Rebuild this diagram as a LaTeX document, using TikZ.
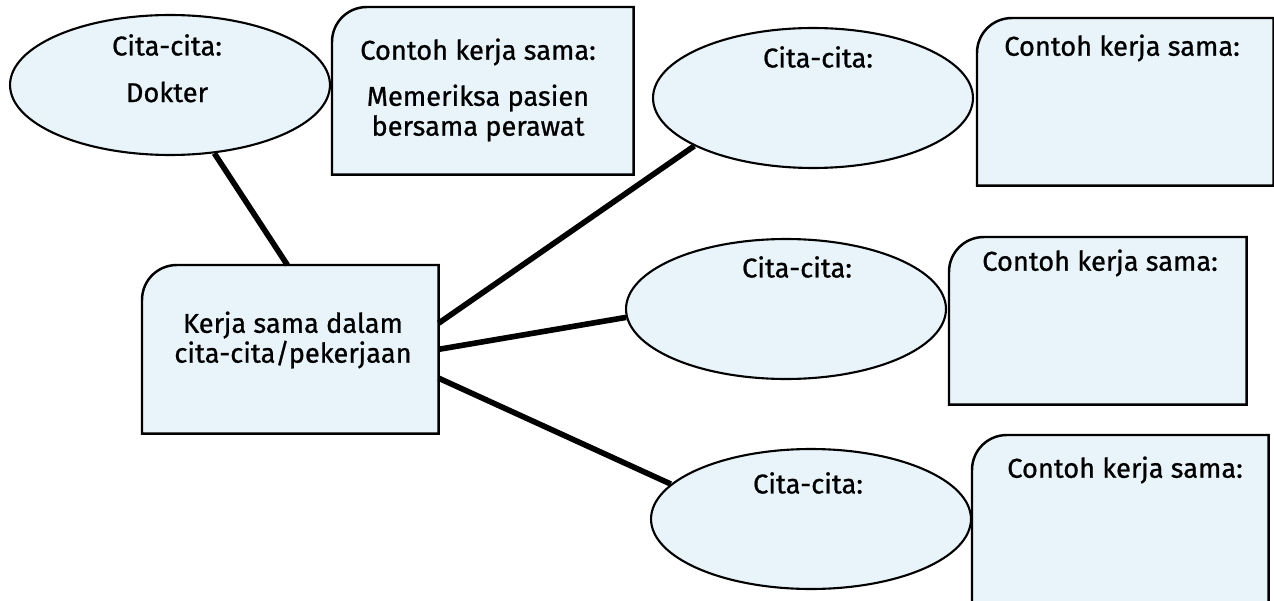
\documentclass[tikz,border=0pt]{standalone}
\usepackage{fontspec}
\setmainfont{Fira Sans}
\newfontfamily\hurufku{Fira Sans}[FakeBold=0.8]
\usetikzlibrary{shapes.geometric,backgrounds}
\definecolor{isi}{RGB}{233,244,250}
\tikzset{
  cita/.style={ellipse, draw, line width=1.2pt, fill=isi, minimum width=6.4cm, minimum height=2.8cm, inner sep=0pt},
  kotak/.style={rectangle, inner sep=0pt, anchor=north west},
  garis/.style={line width=1.4pt, fill=isi},
  sambung/.style={line width=3.2pt},
  tulis/.style={font=\hurufku\fontsize{15.5}{17}\selectfont, align=center, inner sep=0pt}
}
\begin{document}
\begin{tikzpicture}[x=0.02cm, y=-0.02cm]
  \useasboundingbox (0,0) rectangle (1274,601);
  \clip (0,0) rectangle (1274,601);
  %kotak
  \node[kotak, minimum width=6.02cm, minimum height=3.34cm] (contoh1) at (332,7) {};
  \node[kotak, minimum width=5.92cm, minimum height=3.34cm] (contoh2) at (977,18) {};
  \node[kotak, minimum width=5.94cm, minimum height=3.34cm] (contoh3) at (949,237) {};
  \node[kotak, minimum width=5.92cm, minimum height=3.6cm] (contoh4) at (972,435) {};
  \node[kotak, minimum width=5.92cm, minimum height=3.36cm] (pusat) at (142,265) {};
  \begin{scope}[on background layer]
    \foreach \k in {contoh1,contoh2,contoh3,contoh4,pusat}
      \draw[garis] (\k.south west) -- ([yshift=-0.7cm]\k.north west)
        .. controls ([yshift=-0.31cm]\k.north west) and ([xshift=0.31cm]\k.north west) .. ([xshift=0.7cm]\k.north west)
        -- (\k.north east) -- (\k.south east) -- cycle;
  \end{scope}
  %elips
  \node[cita] (cita1) at (170,85) {};
  \node[cita] (cita2) at (813,98) {};
  \node[cita] (cita3) at (786,309) {};
  \node[cita] (cita4) at (811,519) {};
  %garis penghubung
  \draw[sambung] (cita1.303) -- (pusat.92);
  \draw[sambung] (pusat.10) -- (cita2.202);
  \draw[sambung] (pusat.0) -- (cita3.183);
  \draw[sambung] (pusat.-11) -- (cita4.166);
  %teks
  \node[tulis] (judul1) at (167,45) {Cita-cita:};
  \node[tulis] (isi1) at (167,92) {Dokter};
  \node[tulis] (judul2) at (818,57) {Cita-cita:};
  \node[tulis] (judul3) at (797,267) {Cita-cita:};
  \node[tulis] (judul4) at (808,483) {Cita-cita:};
  \node[tulis] (ket1) at (478,52) {Contoh kerja sama:};
  \node[tulis] (isiket1) at (478,113) {Memeriksa pasien\\bersama perawat};
  \node[tulis] (ket2) at (1122,48) {Contoh kerja sama:};
  \node[tulis] (ket3) at (1100,263) {Contoh kerja sama:};
  \node[tulis] (ket4) at (1125,470) {Contoh kerja sama:};
  \node[tulis] (teks) at (293,340) {Kerja sama dalam\\cita-cita/pekerjaan};
\end{tikzpicture}
\end{document}
